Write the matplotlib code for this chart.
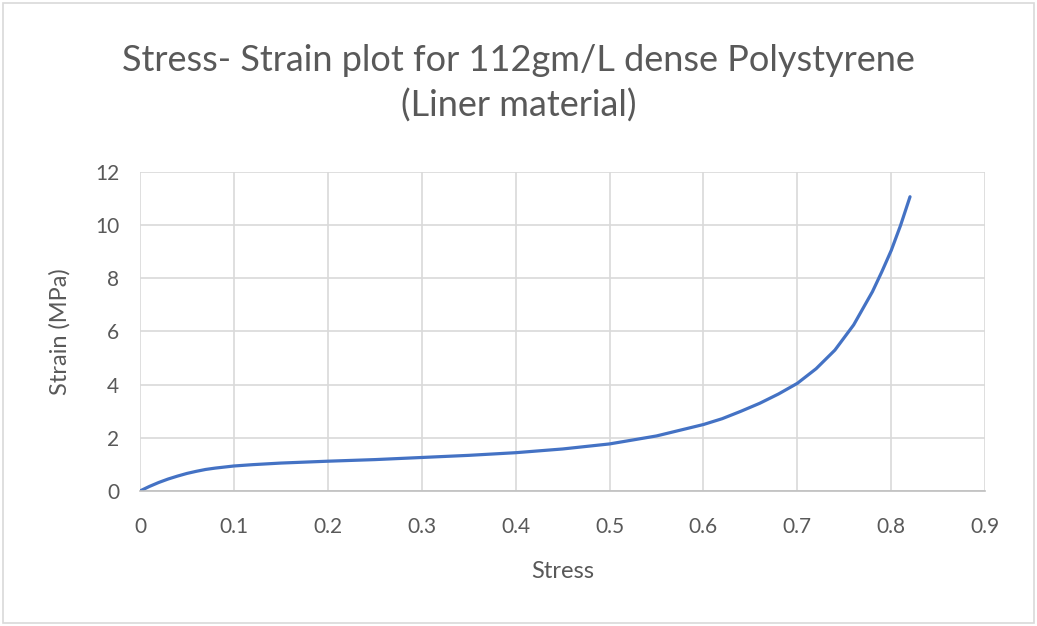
import numpy as np
import matplotlib.pyplot as plt

# Stress / strain readings
stress = [0, 0.01, 0.02, 0.03, 0.04, 0.05, 0.06, 0.07, 0.08, 0.09, 0.1, 0.12,
          0.15, 0.2, 0.25, 0.3, 0.35, 0.4, 0.45, 0.5, 0.55, 0.6, 0.62, 0.64,
          0.66, 0.68, 0.7, 0.72, 0.74, 0.76, 0.78, 0.79, 0.8, 0.81, 0.82]
strain = [0, 0.17, 0.32, 0.45, 0.56, 0.66, 0.74, 0.81, 0.86, 0.9, 0.94, 0.99,
          1.05, 1.12, 1.18, 1.26, 1.34, 1.44, 1.58, 1.77, 2.07, 2.5, 2.72, 3.0,
          3.3, 3.65, 4.05, 4.6, 5.3, 6.25, 7.5, 8.25, 9.05, 10.0, 11.07]

x_ticks = [0, 0.1, 0.2, 0.3, 0.4, 0.5, 0.6, 0.7, 0.8, 0.9]
x_labels = ["0", "0.1", "0.2", "0.3", "0.4", "0.5", "0.6", "0.7", "0.8", "0.9"]
y_ticks = [0, 2, 4, 6, 8, 10, 12]

plt.rcParams['font.family'] = ['Lato', 'DejaVu Sans']
text_col = '#595959'

fig = plt.figure(figsize=(10.37, 6.26), dpi=100)
fig.patches.append(plt.Rectangle((0.003, 0.005), 0.994, 0.99, transform=fig.transFigure,
                                 fill=False, edgecolor='#d9d9d9', linewidth=1.2))
ax = fig.add_axes([0.135, 0.2157, 0.815, 0.5095])

ax.plot(stress, strain, color='#4472C4', linewidth=2.3, solid_capstyle='round',
        solid_joinstyle='round')

ax.set_xlim(0, 0.9)
ax.set_ylim(0, 12)
ax.set_xticks(x_ticks)
ax.set_xticklabels(x_labels)
ax.set_yticks(y_ticks)
ax.grid(True, color='#d9d9d9', linewidth=1.2)
ax.set_axisbelow(True)
for s in ['top', 'right', 'left']:
    ax.spines[s].set_visible(False)
ax.spines['bottom'].set_color('#bfbfbf')
ax.spines['bottom'].set_linewidth(1.2)
ax.tick_params(length=0, colors=text_col, labelsize=15)
ax.tick_params(axis='x', pad=19)
ax.tick_params(axis='y', pad=15)

ax.set_xlabel("Stress", color=text_col, fontsize=17)
ax.set_ylabel("Strain (MPa)", color=text_col, fontsize=17)
ax.xaxis.set_label_coords(0.5, -0.22)
ax.yaxis.set_label_coords(-0.082, 0.5)

fig.text(0.5, 0.903, "Stress- Strain plot for 112gm/L dense Polystyrene",
         ha='center', va='center', fontsize=26, color=text_col)
fig.text(0.5, 0.832, "(Liner material)", ha='center', va='center',
         fontsize=26, color=text_col)

fig.savefig("out.png", dpi=100)
